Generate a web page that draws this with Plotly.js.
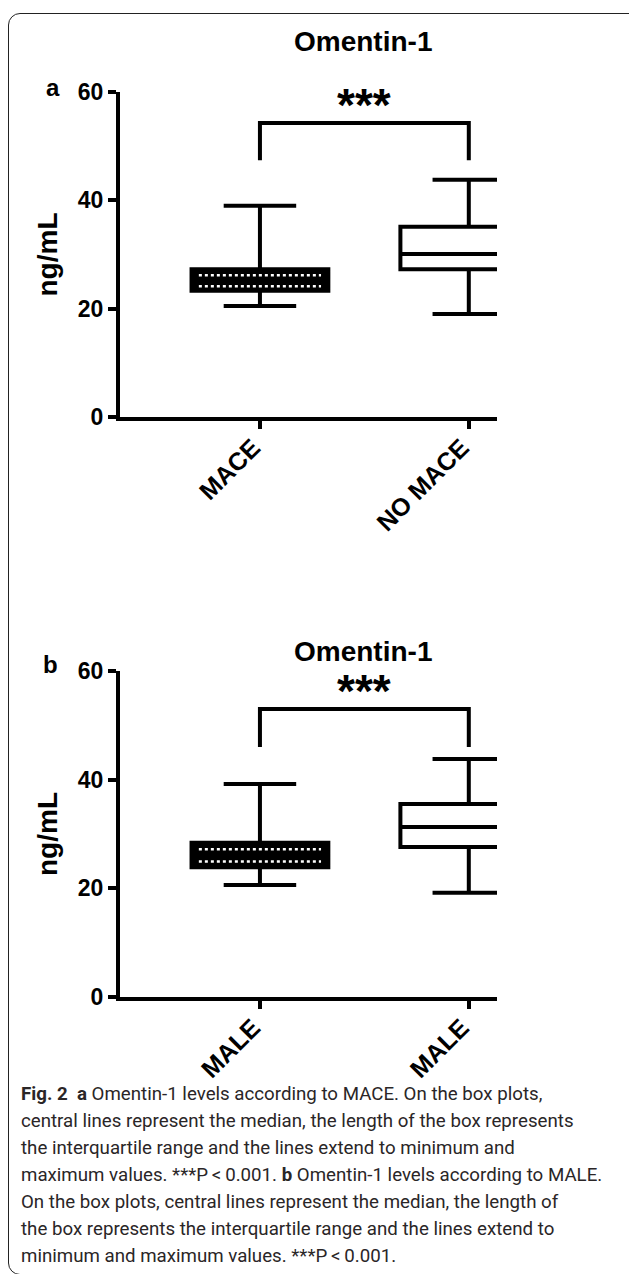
<!DOCTYPE html>
<html>
<head>
<meta charset="utf-8">
<script src="https://cdn.plot.ly/plotly-3.0.1.min.js"></script>
<style>
  html, body { margin: 0; padding: 0; background: #fff; width: 629px; height: 1274px; overflow: hidden; position: relative; }
  #chart { position: absolute; left: 0; top: 0; width: 629px; height: 1274px; }
  #frame { position: absolute; left: 8px; top: 13px; width: 640px; height: 1262px; border: 1.5px solid #222; border-radius: 12px; pointer-events: none; box-sizing: border-box; }
  #cap { position: absolute; left: 21px; top: 1081px; font-family: Roboto, "Noto Sans", sans-serif; font-size: 18.7px; line-height: 27px; color: #2a2627; white-space: nowrap; }
  #cap b { font-weight: 700; }
</style>
</head>
<body>
<div id="chart"></div>
<div id="frame"></div>
<div id="cap">
<b>Fig.&nbsp;2</b>&nbsp; <b>a</b> Omentin-1 levels according to MACE. On the box plots,<br>
central lines represent the median, the length of the box represents<br>
the interquartile range and the lines extend to minimum and<br>
maximum values. ***P&thinsp;&lt;&thinsp;0.001. <b>b</b> Omentin-1 levels according to MALE.<br>
On the box plots, central lines represent the median, the length of<br>
the box represents the interquartile range and the lines extend to<br>
minimum and maximum values. ***P&thinsp;&lt;&thinsp;0.001.
</div>
<script>
// ---------- data ----------
const chartTitle = "Omentin-1";
const yAxisLabel = "ng/mL";
const yTicks = [0, 20, 40, 60];

// Panel a
const catsA = ["MACE", "NO MACE"];
const minA = [20.5, 19.0];
const q1A = [23.3, 27.3];
const medA = [25.0, 30.1];
const q3A = [27.3, 35.1];
const maxA = [39.0, 43.8];
const bracketA = [47.4, 54.3]; // [leg end, bar top]

// Panel b
const catsB = ["MALE", "MALE"];
const minB = [20.6, 19.2];
const q1B = [23.9, 27.6];
const medB = [26.0, 31.3];
const q3B = [28.4, 35.5];
const maxB = [39.2, 43.8];
const bracketB = [46.0, 53.0];

const sigLabel = "***";

// ---------- layout helpers ----------
const L = 120, T = 92, W = 377, H = 905;
const fx = px => (px - L) / W;
const fy = py => (T + H - py) / H;
const FONT = "Liberation Sans, Arial, sans-serif";
const BOXW = 0.655;

function boxTraces(q1, med, q3, mn, mx, xa, ya) {
  const tr = [];
  for (let i = 0; i < 2; i++) {
    tr.push({
      type: "box", x: [i], q1: [q1[i]], median: [med[i]], q3: [q3[i]],
      lowerfence: [mn[i]], upperfence: [mx[i]],
      width: BOXW, whiskerwidth: 0.53, boxpoints: false,
      fillcolor: i === 0 ? "#000" : "#fff",
      line: { color: "#000", width: 4 },
      xaxis: xa, yaxis: ya, hoverinfo: "skip", showlegend: false
    });
  }
  // dotted fill pattern inside first box
  const half = BOXW / 2 - 0.035;
  [(q1[0] + med[0]) / 2, (med[0] + q3[0]) / 2].forEach(v => {
    tr.push({
      type: "scatter", mode: "lines", x: [-half, half], y: [v, v],
      line: { color: "#fff", width: 2.5, dash: "dot" },
      xaxis: xa, yaxis: ya, hoverinfo: "skip", showlegend: false
    });
  });
  return tr;
}
function bracket(b, xa, ya) {
  return {
    type: "scatter", mode: "lines", x: [0, 0, 1, 1], y: [b[0], b[1], b[1], b[0]],
    line: { color: "#000", width: 4 }, xaxis: xa, yaxis: ya,
    hoverinfo: "skip", showlegend: false
  };
}

const data = [].concat(
  boxTraces(q1A, medA, q3A, minA, maxA, "x", "y"),
  [bracket(bracketA, "x", "y")],
  boxTraces(q1B, medB, q3B, minB, maxB, "x2", "y2"),
  [bracket(bracketB, "x2", "y2")]
);

function xax(cats, anchor) {
  return {
    anchor: anchor, range: [-0.67, 1.135], tickmode: "array", tickvals: [0, 1], ticktext: cats,
    tickangle: -45, ticks: "outside", ticklen: 8, tickwidth: 4, tickcolor: "#000",
    ticklabelstandoff: -6, ticklabelshift: -7,
    showline: true, linewidth: 4, linecolor: "#000", showgrid: false, zeroline: false,
    tickfont: { family: FONT, size: 25, weight: "bold", color: "#000" }, fixedrange: true
  };
}
function yax(domain, anchor) {
  return {
    anchor: anchor, domain: domain, range: [0, 60], tickmode: "array", tickvals: yTicks,
    ticks: "outside", ticklen: 8, tickwidth: 4, tickcolor: "#000",
    showline: true, linewidth: 4, linecolor: "#000", showgrid: false, zeroline: false,
    tickfont: { family: FONT, size: 23, weight: "bold", color: "#000" },
    title: { text: yAxisLabel, font: { family: FONT, size: 28, weight: "bold", color: "#000" }, standoff: 13 },
    fixedrange: true
  };
}

function ann(text, x, y, size, extra) {
  return Object.assign({ text: text, xref: "paper", yref: "paper", x: fx(x), y: fy(y),
    xanchor: "center", yanchor: "middle", showarrow: false,
    font: { family: FONT, size: size, weight: "bold", color: "#000" } }, extra || {});
}

const layout = {
  width: 629, height: 1274,
  margin: { l: L, r: 629 - L - W, t: T, b: 1274 - T - H },
  paper_bgcolor: "rgba(0,0,0,0)", plot_bgcolor: "rgba(0,0,0,0)",
  showlegend: false, hovermode: false,
  xaxis: xax(catsA, "y"),
  yaxis: yax([fy(417), 1], "x"),
  xaxis2: xax(catsB, "y2"),
  yaxis2: yax([0, fy(671)], "x2"),
  annotations: [
    ann(chartTitle, 363, 42, 28),
    ann(chartTitle, 363, 651, 28),
    ann("a", 53, 88, 24),
    ann("b", 50, 664, 24),
    { text: sigLabel, xref: "x", yref: "y", x: 0.5, y: bracketA[1], xanchor: "center", yanchor: "bottom", yshift: -10, showarrow: false,
      font: { family: FONT, size: 46, weight: "bold", color: "#000" } },
    { text: sigLabel, xref: "x2", yref: "y2", x: 0.5, y: bracketB[1], xanchor: "center", yanchor: "bottom", yshift: -10, showarrow: false,
      font: { family: FONT, size: 46, weight: "bold", color: "#000" } }
  ]
};

Plotly.newPlot("chart", data, layout, { staticPlot: true, displayModeBar: false });
</script>
</body>
</html>
